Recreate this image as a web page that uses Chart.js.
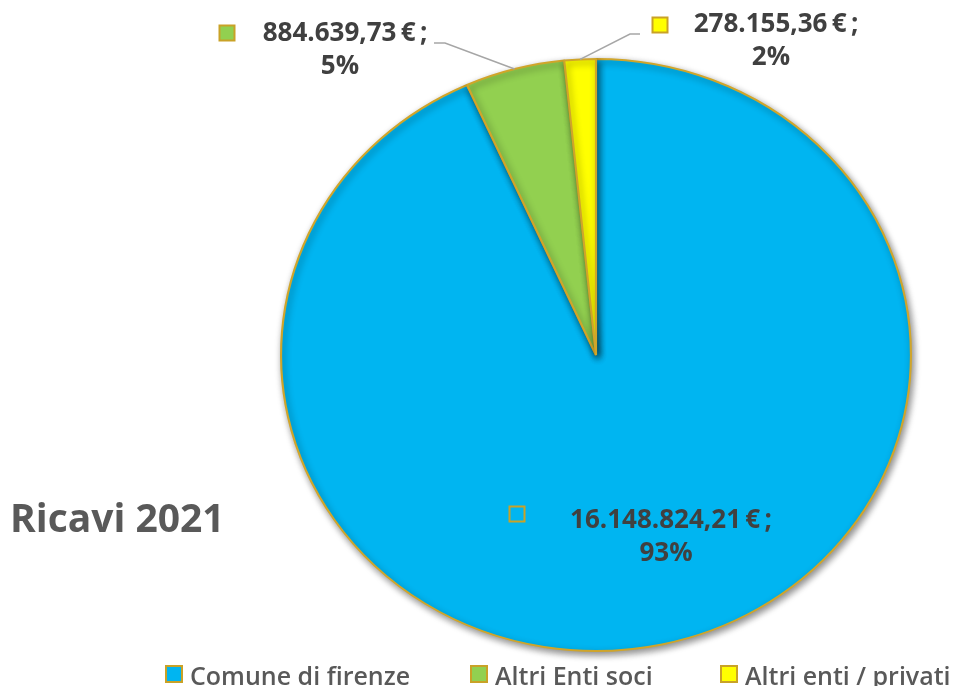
<!DOCTYPE html>
<html lang="it">
<head>
<meta charset="UTF-8">
<title>Ricavi 2021</title>
<script src="https://cdn.jsdelivr.net/npm/chart.js"></script>
<style>
  html, body { margin: 0; padding: 0; background: #fff; }
  #wrap { width: 959px; height: 686px; position: relative; }
</style>
</head>
<body>
<div id="wrap"><canvas id="pie"></canvas></div>
<script>
// data
const categories = ["Comune di firenze", "Altri Enti soci", "Altri enti / privati"];
const ricavi = [16148824.21, 884639.73, 278155.36];
const sliceColors = ["#00b5f1", "#92d050", "#ffff00"];

// where each data label sits (text centre of first line, marker, elbow of leader line)
const labelLayout = [
    { tx: 671, ty: 521, mx: 517, my: 514, elbow: null },
    { tx: 345, ty: 34, mx: 227, my: 33, elbow: [434, 445] },
    { tx: 776, ty: 25, mx: 660, my: 25, elbow: [640, 630] }
];
const legendLayout = [174, 479, 729];
const stretchX = 316 / 297; // the original pie is a little wider than tall

function euro(v) {
    const parts = v.toFixed(2).split(".");
    const int = parts[0].replace(/\B(?=(\d{3})+(?!\d))/g, ".");
    return int + "," + parts[1] + "\u2009€\u2009;";
}

const total = ricavi.reduce((a, b) => a + b, 0);

function marker(ctx, x, y, s, fill) {
    ctx.fillStyle = fill;
    ctx.fillRect(x - s / 2, y - s / 2, s, s);
    ctx.strokeStyle = "#c9a227";
    ctx.lineWidth = 2;
    ctx.strokeRect(x - s / 2, y - s / 2, s, s);
}

const shadowPlugin = {
    id: "shadow",
    beforeDatasetsDraw(chart) {
        const ctx = chart.ctx;
        const arc = chart.getDatasetMeta(0).data[0];
        ctx.save();
        ctx.translate(arc.x, arc.y);
        ctx.scale(stretchX, 1);
        ctx.translate(-arc.x, -arc.y);
        ctx.shadowColor = "rgba(0,0,0,0.45)";
        ctx.shadowBlur = 7;
        ctx.shadowOffsetX = 2;
        ctx.shadowOffsetY = 3;
    },
    afterDatasetsDraw(chart) {
        chart.ctx.restore();
    }
};

const labelPlugin = {
    id: "labels",
    afterDraw(chart) {
        const ctx = chart.ctx;
        const arcs = chart.getDatasetMeta(0).data;
        ctx.save();
        // title
        ctx.fillStyle = "#595959";
        ctx.font = "bold 39px 'Open Sans'";
        ctx.textAlign = "left";
        ctx.textBaseline = "alphabetic";
        ctx.fillText("Ricavi 2021", 10, 532);

        arcs.forEach((arc, i) => {
            const L = labelLayout[i];
            if (L.elbow) {
                const mid = (arc.startAngle + arc.endAngle) / 2;
                const ex = arc.x + Math.cos(mid) * arc.outerRadius * stretchX;
                const ey = arc.y + Math.sin(mid) * arc.outerRadius;
                ctx.strokeStyle = "#a6a6a6";
                ctx.lineWidth = 1.5;
                ctx.beginPath();
                ctx.moveTo(L.elbow[0], L.ty + 9);
                ctx.lineTo(L.elbow[1], L.ty + 9);
                ctx.lineTo(ex, ey);
                ctx.stroke();
            }
            marker(ctx, L.mx, L.my, 15, sliceColors[i]);
            ctx.fillStyle = "#404040";
            ctx.font = "bold 26px 'Open Sans'";
            ctx.textAlign = "center";
            ctx.textBaseline = "middle";
            ctx.fillText(euro(ricavi[i]), L.tx, L.ty);
            ctx.fillText(Math.round(ricavi[i] / total * 100) + "%", L.tx - 5, L.ty + 33);
        });

        // legend
        ctx.font = "600 25px 'Open Sans'";
        ctx.textAlign = "left";
        ctx.textBaseline = "alphabetic";
        categories.forEach((c, i) => {
            const x = legendLayout[i];
            marker(ctx, x, 674, 16, sliceColors[i]);
            ctx.fillStyle = "#595959";
            ctx.fillText(c, x + 16, 685);
        });
        ctx.restore();
    }
};

new Chart(document.getElementById("pie"), {
    type: "pie",
    data: {
        labels: categories,
        datasets: [{
            data: ricavi,
            backgroundColor: sliceColors,
            borderColor: "#d0a52a",
            borderWidth: 2
        }]
    },
    options: {
        responsive: true,
        maintainAspectRatio: false,
        animation: false,
        layout: { padding: { left: 299, right: 66, top: 58, bottom: 34 } },
        plugins: {
            legend: { display: false },
            tooltip: { enabled: false }
        }
    },
    plugins: [shadowPlugin, labelPlugin]
});
</script>
</body>
</html>
